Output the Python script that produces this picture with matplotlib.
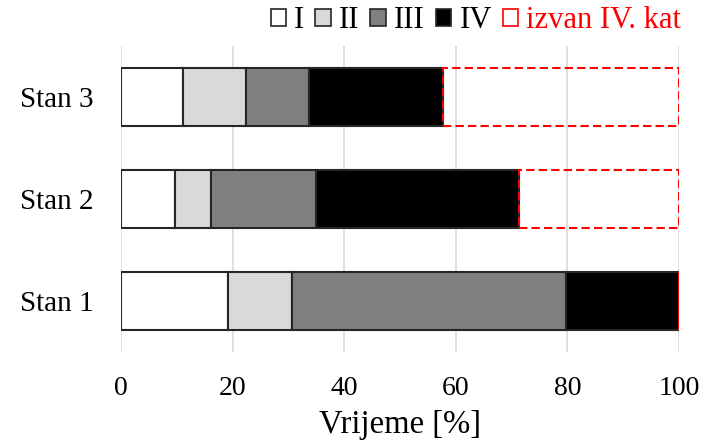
import matplotlib
matplotlib.use("Agg")
import matplotlib.pyplot as plt
from matplotlib.patches import Patch

plt.rcParams['font.family'] = ['Liberation Serif', 'DejaVu Serif']

# podaci (vrijeme u % po kategoriji)
stanovi = ["Stan 1", "Stan 2", "Stan 3"]
kat_I = [19.2, 9.7, 11.1]
kat_II = [11.5, 6.5, 11.2]
kat_III = [49.1, 18.8, 11.4]
kat_IV = [20.2, 36.4, 24.0]
izvan = [0.0, 28.6, 42.3]

kategorije = ["I", "II", "III", "IV"]
boje = ["white", "#d9d9d9", "#7f7f7f", "black"]

fig = plt.figure(figsize=(7.04, 4.43), dpi=100)
ax = fig.add_axes([0.172, 0.205, 0.7925, 0.691])

y = range(len(stanovi))
lijevo = [0.0] * len(stanovi)
for vrijednosti, boja in zip([kat_I, kat_II, kat_III, kat_IV], boje):
    ax.barh(y, vrijednosti, left=lijevo, height=0.57, color=boja,
            edgecolor="#262626", linewidth=1.5, zorder=3)
    lijevo = [l + v for l, v in zip(lijevo, vrijednosti)]

# dio izvan IV. kategorije
ax.barh(y, izvan, left=lijevo, height=0.57, facecolor="none",
        edgecolor="red", linestyle=(0, (4, 2)), linewidth=1.5, zorder=3)

ax.set_xlim(0, 100)
ax.set_ylim(-0.5, 2.5)
ax.set_xticks([0, 20, 40, 60, 80, 100])
ax.set_yticks(list(y))
ax.set_yticklabels(stanovi)
ax.tick_params(axis='x', length=0, labelsize=20, pad=17)
ax.tick_params(axis='y', length=0, labelsize=21, pad=20)
ax.xaxis.grid(True, color="#d9d9d9", linewidth=1.2, zorder=0)
for s in ax.spines.values():
    s.set_visible(False)
ax.set_xlabel("Vrijeme [%]", fontsize=23.5, labelpad=6)

handles = [Patch(facecolor=b, edgecolor="#262626", linewidth=1.2) for b in boje]
handles.append(Patch(facecolor="none", edgecolor="red", linewidth=1.2))
leg = fig.legend(handles, kategorije + ["izvan IV. kat"], loc="center right",
                 bbox_to_anchor=(0.985, 0.953), ncol=5, frameon=False,
                 fontsize=22, handlelength=0.5, handleheight=0.5,
                 handletextpad=0.28, columnspacing=0.35, borderaxespad=0)
leg.get_texts()[-1].set_color("red")

fig.savefig("out.png", dpi=100)
